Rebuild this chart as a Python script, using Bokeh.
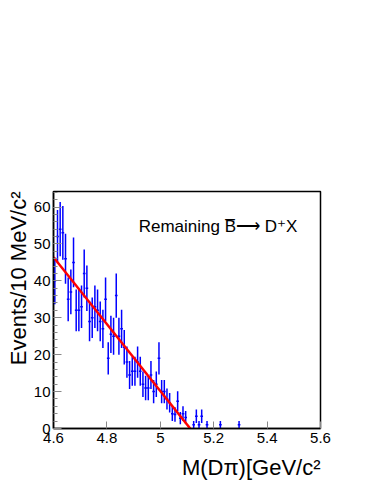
import numpy as np
from bokeh.plotting import figure
from bokeh.models import ColumnDataSource, FixedTicker, Label, Title
from bokeh.embed import file_html
from bokeh.resources import INLINE

# Histogram bins (10 MeV) : centre and content
bin_centres = [4.605, 4.615, 4.625, 4.635, 4.645, 4.655, 4.665, 4.675, 4.685, 4.695,
               4.705, 4.715, 4.725, 4.735, 4.745, 4.755, 4.765, 4.775, 4.785, 4.795,
               4.805, 4.815, 4.825, 4.835, 4.845, 4.855, 4.865, 4.875, 4.885, 4.895,
               4.905, 4.915, 4.925, 4.935, 4.945, 4.955, 4.965, 4.975, 4.985, 4.995,
               5.005, 5.015, 5.025, 5.035, 5.045, 5.055, 5.065, 5.075, 5.085, 5.095,
               5.125, 5.135, 5.145, 5.155, 5.175, 5.225, 5.295]
counts = [40, 52, 54, 53, 46, 35, 37, 45, 32, 32,
          33, 42, 38, 29, 30, 33, 32, 29, 27, 35,
          19, 25.5, 25, 36, 25, 27, 22, 18, 14.5, 15.5,
          15.5, 18, 15.5, 12, 11, 11, 14.5, 10, 12, 19,
          10, 10, 8, 7, 4, 3.8, 7.4, 2.8, 4, 3,
          1, 3.3, 1, 3.3, 1, 1, 1]
bin_half_width = 0.005

# Linear background fit
fit_x = [4.6, 5.112]
fit_y = [46.4, 0.0]

x_ticks = [4.6, 4.8, 5.0, 5.2, 5.4, 5.6]
x_tick_labels = {5.0: "5"}
y_ticks = [0, 10, 20, 30, 40, 50, 60]
y_minor = [v for v in range(0, 65, 2)]

xc = np.array(bin_centres)
yc = np.array(counts, dtype=float)
err = np.sqrt(yc)
src = ColumnDataSource(dict(x=xc, y=yc, x0=xc - bin_half_width, x1=xc + bin_half_width,
                            ylo=np.clip(yc - err, 0, None), yhi=yc + err))

p = figure(width=375, height=488, x_range=(4.6, 5.6), y_range=(0, 64.2),
           output_backend="svg", toolbar_location=None,
           min_border_left=53, min_border_right=55, min_border_top=191, min_border_bottom=60)
p.xgrid.visible = False
p.ygrid.visible = False
p.outline_line_color = "black"
p.outline_line_width = 1.5
p.background_fill_color = "white"
p.border_fill_color = "white"

FONT = "Liberation Sans"
p.xaxis.ticker = FixedTicker(ticks=x_ticks, minor_ticks=[])
p.xaxis.major_label_overrides = x_tick_labels
p.yaxis.ticker = FixedTicker(ticks=y_ticks, minor_ticks=y_minor)
for ax in (p.xaxis, p.yaxis):
    ax.axis_line_color = "black"
    ax.axis_line_width = 1.5
    ax.major_tick_line_color = "#888888"
    ax.minor_tick_line_color = "#888888"
    ax.major_tick_out = 0
    ax.minor_tick_out = 0
    ax.major_label_text_font = FONT
    ax.major_label_text_font_size = "15px"
    ax.major_label_text_color = "black"
p.xaxis.major_tick_in = 7
p.yaxis.major_tick_in = 8
p.yaxis.minor_tick_in = 4
p.xaxis.major_label_standoff = 4
p.yaxis.major_label_standoff = 3

p.segment(x0="x", y0="ylo", x1="x", y1="yhi", source=src, line_color="#0000ff", line_width=1.5)
p.segment(x0="x0", y0="y", x1="x1", y1="y", source=src, line_color="#0000ff", line_width=1.5)
p.line(fit_x, fit_y, line_color="#ff0000", line_width=2.5)

p.add_layout(Label(x=4.919, y=54.6, text="Remaining B\u0305\u27f6 D\u207aX",
                   text_font=FONT, text_font_size="17px", text_color="black",
                   text_align="left", text_baseline="alphabetic"))

p.add_layout(Title(text="Events/10 MeV/c\u00b2", align="right", text_font=FONT,
                   text_font_size="22px", text_font_style="normal", text_color="black",
                   standoff=0, offset=0), "left")
p.add_layout(Title(text="M(D\u03c0)[GeV/c\u00b2", align="right", text_font=FONT,
                   text_font_size="22px", text_font_style="normal", text_color="black",
                   standoff=14, offset=0), "below")

open("out.html", "w").write(file_html(p, INLINE))
